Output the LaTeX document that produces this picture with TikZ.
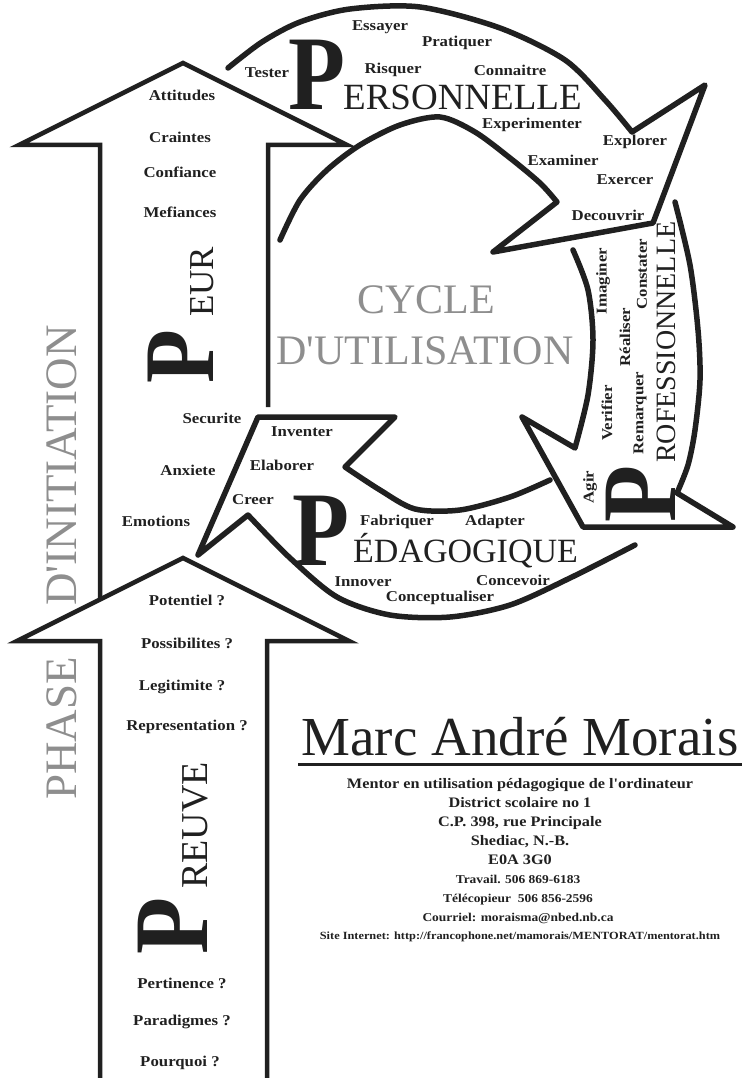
\documentclass[tikz,border=0pt]{standalone}
\usepackage{fontspec}
\setmainfont{Liberation Serif}
\newfontfamily\wordfont{Liberation Serif}[FakeStretch=1.12]
\newfontfamily\capfont{Liberation Serif}[FakeStretch=0.88]
\definecolor{ink}{HTML}{202020}
\definecolor{pale}{HTML}{8E8E8E}
\begin{document}
\begin{tikzpicture}[x=1pt,y=-1pt]
    \tikzstyle{every node}=[inner sep=0pt,text=ink];
    \tikzstyle{word}=[font=\wordfont\bfseries\fontsize{15}{15}\selectfont];
    \tikzstyle{bigP}=[font=\capfont\bfseries\fontsize{106}{106}\selectfont,anchor=base west,text depth=0pt];
    \tikzstyle{rest}=[anchor=base west];
    \tikzstyle{cycleline}=[draw=ink,line width=5.5pt,line cap=round,line join=round];
    \tikzstyle{shaftline}=[draw=ink,line width=4.5pt];
    \tikzstyle{phase}=[text=pale,font=\fontsize{45}{45}\selectfont];

    \useasboundingbox (0,0) rectangle (744,1078);

    \draw[shaftline] (100,600) -- (100,145) -- (19,145) -- (183,63) -- (347,145) -- (268,145) -- (268,407);
    \draw[shaftline] (100,1080) -- (100,641) -- (17,641) -- (183,558) -- (349,641) -- (267,641) -- (267,1080);

    \draw[cycleline] plot[smooth] coordinates {(228,68) (262,42) (300,22) (350,9) (420,7) (500,28) (565,60) (605,100) (632,132)}
        -- (705,85) -- (653,223) -- (493,252) -- (557,202)
        -- plot[smooth] coordinates {(557,202) (540,183) (510,158) (475,132) (440,117) (400,125) (360,145) (327,170) (300,200) (280,240)};
    \draw[cycleline] plot[smooth] coordinates {(573,250) (588,290) (593,340) (588,395) (575,448)}
        -- (522,417) -- (583,527) -- (733,527) -- (677,493)
        -- plot[smooth] coordinates {(677,493) (688,465) (695,430) (700,380) (698,330) (690,265) (675,202)};
    \draw[cycleline] plot[smooth] coordinates {(550,480) (510,497) (460,510) (415,509) (380,490) (345,467)}
        -- (395,417) -- (258,417) -- (198,555) -- (248,515)
        -- plot[smooth] coordinates {(248,515) (290,558) (337,597) (390,615) (450,617) (510,605) (570,578) (635,545)};

    \node[phase,rotate=90,anchor=base west] (initiation) at (76,606) {D\textquotesingle INITIATION};
    \node[phase,rotate=90,anchor=base west] (phase) at (76,800) {PHASE};
    \node[phase,font=\fontsize{42}{42}\selectfont] (cycle) at (426,300) {CYCLE};
    \node[phase,font=\fontsize{42}{42}\selectfont] (utilisation) at (425,351) {D\textquotesingle UTILISATION};

    \node[bigP] (pPers) at (288,110) {P};
    \node[rest,font=\fontsize{37}{37}\selectfont] (ersonnelle) at (343,110) {ERSONNELLE};
    \node[word] (essayer) at (380,27) {Essayer};
    \node[word] (pratiquer) at (457,43) {Pratiquer};
    \node[word] (tester) at (267,73) {Tester};
    \node[word] (risquer) at (393,70) {Risquer};
    \node[word] (connaitre) at (510,70) {Connaitre};
    \node[word] (experimenter) at (532,125) {Experimenter};
    \node[word] (explorer) at (635,142) {Explorer};
    \node[word] (examiner) at (563,160) {Examiner};
    \node[word] (exercer) at (625,180) {Exercer};
    \node[word] (decouvrir) at (608,215) {Decouvrir};

    \node[bigP,rotate=90] (pProf) at (675,523) {P};
    \node[rest,rotate=90,font=\fontsize{28}{28}\selectfont] (rofessionnelle) at (675,463) {ROFESSIONNELLE};
    \node[word,rotate=90] (imaginer) at (603,281) {Imaginer};
    \node[word,rotate=90] (constater) at (642,274) {Constater};
    \node[word,rotate=90] (realiser) at (625,337) {Réaliser};
    \node[word,rotate=90] (remarquer) at (640,413) {Remarquer};
    \node[word,rotate=90] (verifier) at (607,413) {Verifier};
    \node[word,rotate=90] (agir) at (590,487) {Agir};

    \node[bigP] (pPeda) at (292,565) {P};
    \node[rest,font=\fontsize{34}{34}\selectfont] (edagogique) at (353,562) {ÉDAGOGIQUE};
    \node[word] (fabriquer) at (397,522) {Fabriquer};
    \node[word] (adapter) at (495,522) {Adapter};
    \node[word] (innover) at (363,582) {Innover};
    \node[word] (concevoir) at (513,580) {Concevoir};
    \node[word] (conceptualiser) at (440,598) {Conceptualiser};
    \node[word] (inventer) at (302,432) {Inventer};
    \node[word] (elaborer) at (282,465) {Elaborer};
    \node[word] (creer) at (253,500) {Creer};

    \node[bigP,rotate=90,font=\capfont\bfseries\fontsize{100}{100}\selectfont] (pPeur) at (213,384) {P};
    \node[rest,rotate=90,font=\fontsize{35}{35}\selectfont] (eur) at (213,317) {EUR};
    \node[word] (attitudes) at (182,95) {Attitudes};
    \node[word] (craintes) at (180,137) {Craintes};
    \node[word] (confiance) at (180,172) {Confiance};
    \node[word] (mefiances) at (180,212) {Mefiances};
    \node[word] (securite) at (212,418) {Securite};
    \node[word] (anxiete) at (188,470) {Anxiete};
    \node[word] (emotions) at (156,521) {Emotions};

    \node[bigP,rotate=90] (pPreuve) at (207,955) {P};
    \node[rest,rotate=90,font=\fontsize{38}{38}\selectfont] (reuve) at (207,889) {REUVE};
    \node[word] (potentiel) at (187,600) {Potentiel ?};
    \node[word] (possibilites) at (187,643) {Possibilites ?};
    \node[word] (legitimite) at (182,687) {Legitimite ?};
    \node[word] (representation) at (187,727) {Representation ?};
    \node[word] (pertinence) at (182,983) {Pertinence ?};
    \node[word] (paradigmes) at (182,1022) {Paradigmes ?};
    \node[word] (pourquoi) at (180,1063) {Pourquoi ?};

    \node[anchor=base,font=\fontsize{55}{55}\selectfont] (name) at (520,755) {Marc André Morais};
    \draw[draw=ink,line width=3pt] (298,764) -- (742,764);
    \tikzstyle{every node}=[inner sep=0pt,text=ink,anchor=base,font=\wordfont\bfseries\fontsize{14.5}{14.5}\selectfont];
    \node (mentor) at (520,788) {Mentor en utilisation pédagogique de l'ordinateur};
    \node (district) at (520,807) {District scolaire no 1};
    \node (cp) at (520,826) {C.P. 398, rue Principale};
    \node (shediac) at (520,845) {Shediac, N.-B.};
    \node (postal) at (520,864) {E0A 3G0};
    \tikzstyle{every node}=[inner sep=0pt,text=ink,anchor=base,font=\wordfont\bfseries\fontsize{12}{12}\selectfont];
    \node (travail) at (518,883) {Travail. 506 869-6183};
    \node (telecopieur) at (518,902) {Télécopieur\ \ 506 856-2596};
    \node (courriel) at (518,921) {Courriel: moraisma@nbed.nb.ca};
    \node[font=\wordfont\bfseries\fontsize{11}{11}\selectfont] (site) at (520,939) {Site Internet: http://francophone.net/mamorais/MENTORAT/mentorat.htm};
\end{tikzpicture}
\end{document}
